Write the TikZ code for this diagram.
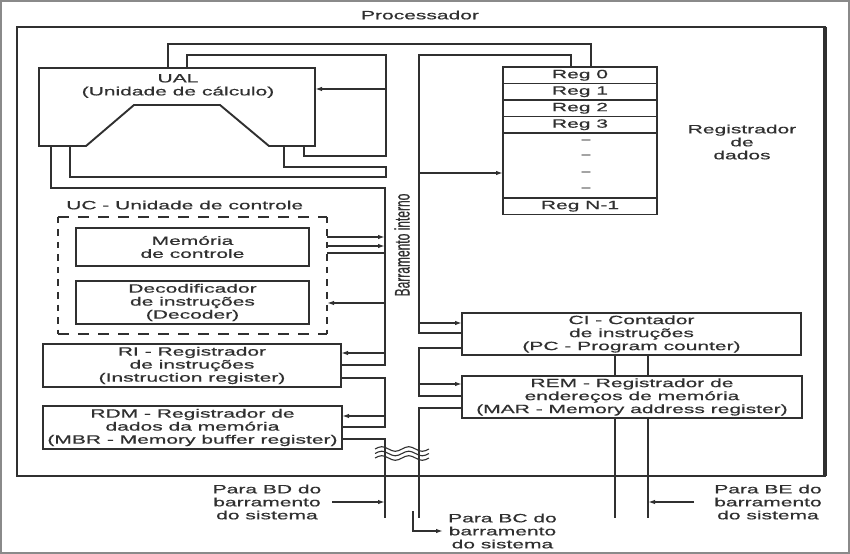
\documentclass[tikz,border=0pt]{standalone}
\usepackage{graphicx}
\usepackage{fontspec}
\setmainfont{Liberation Sans}[FakeStretch=1.75,FakeBold=0.6]
\newfontfamily\plainsans{Liberation Sans}[FakeBold=0.6]
\usetikzlibrary{arrows.meta}
\definecolor{ink}{HTML}{303030}
\definecolor{framegray}{HTML}{8A8A8A}
\newcommand\dfont{\fontsize{12bp}{13bp}\selectfont}
\begin{document}
\begin{tikzpicture}[x=1bp,y=-1bp,
  box/.style={draw=ink, line width=1.9bp, inner sep=0pt, outer sep=0pt, align=center, text=ink, font=\dfont},
  shape0/.style={inner sep=0pt, outer sep=0pt},
  conn/.style={draw=ink, line width=1.4bp},
  arr/.style={conn, -{Latex[length=7bp,width=4.5bp]}},
  lbl/.style={text=ink, font=\dfont, align=center, inner sep=0pt}]

\useasboundingbox (0,0) rectangle (850,554);
\fill[white] (0,0) rectangle (850,554);
\draw[framegray, line width=1.6bp] (0.8,0.8) rectangle (849.2,553.2);

% processor frame
\node[shape0, draw=ink, line width=1.4bp, minimum width=808bp, minimum height=449bp] (proc) at (421,251.5) {};
\draw[ink, line width=3.2bp] (proc.north east) -- (proc.south east);
\draw[ink, line width=2bp] (proc.south east) -- (proc.south west);
\node[lbl] (title) at (420,15) {Processador};

% UAL
\node[shape0, minimum width=276bp, minimum height=78bp] (ual) at (177,107) {};
\draw[ink, line width=1.9bp] (ual.north west) -- (ual.north east) -- (ual.south east)
  -- (269,146) -- (220,105) -- (134,105) -- (86,146) -- (ual.south west) -- cycle;
\node[lbl] (ualt) at (178,86) {UAL\\(Unidade de cálculo)};

% register file
\node[box, minimum width=154bp, minimum height=16.5bp] (reg0) at (580,75.25) {Reg 0};
\node[box, minimum width=154bp, minimum height=16.5bp] (reg1) at (580,91.75) {Reg 1};
\node[box, minimum width=154bp, minimum height=16.5bp] (reg2) at (580,108.25) {Reg 2};
\node[box, minimum width=154bp, minimum height=16.5bp] (reg3) at (580,124.75) {Reg 3};
\node[box, minimum width=154bp, minimum height=65bp] (regb) at (580,165.5) {};
\node[box, minimum width=154bp, minimum height=16.5bp] (regn) at (580,206.25) {Reg N-1};
\node[lbl, font=\fontsize{9bp}{10bp}\selectfont] (d1) at (586,141) {–};
\node[lbl, font=\fontsize{9bp}{10bp}\selectfont] (d2) at (586,156) {–};
\node[lbl, font=\fontsize{9bp}{10bp}\selectfont] (d3) at (586,173) {–};
\node[lbl, font=\fontsize{9bp}{10bp}\selectfont] (d4) at (586,189) {–};
\node[lbl] (rdados) at (742,142) {Registrador\\de\\dados};

% control unit
\node[shape0, minimum width=269bp, minimum height=117bp] (uc) at (192.5,275.5) {};
\draw[ink, line width=1.9bp, dash pattern=on 11bp off 9bp] (uc.north west) -- (uc.north east);
\draw[ink, line width=1.9bp, dash pattern=on 11bp off 9bp] (uc.south west) -- (uc.south east);
\draw[ink, line width=2.6bp, dash pattern=on 6.5bp off 6bp] (uc.north west) -- (uc.south west);
\draw[ink, line width=2.6bp, dash pattern=on 6.5bp off 6bp] (uc.north east) -- (uc.south east);
\node[lbl, anchor=west] (uclbl) at (66,205) {UC - Unidade de controle};
\node[box, minimum width=233bp, minimum height=38bp] (mem) at (192.5,247) {Memória\\de controle};
\node[box, minimum width=233bp, minimum height=43bp] (dec) at (192.5,302.5) {Decodificador\\de instruções\\(Decoder)};

% left registers
\node[box, minimum width=298bp, minimum height=43bp] (ri) at (192,365.5) {RI - Registrador\\de instruções\\(Instruction register)};
\node[box, minimum width=299bp, minimum height=43bp] (rdm) at (192.5,427.5) {RDM - Registrador de\\dados da memória\\(MBR - Memory buffer register)};

% right registers
\node[box, minimum width=339bp, minimum height=42bp] (ci) at (631.5,334) {CI - Contador\\de instruções\\(PC - Program counter)};
\node[box, minimum width=340bp, minimum height=42bp] (rem) at (632,397) {REM - Registrador de\\endereços de memória\\(MAR - Memory address register)};

% bus label
\node[rotate=90, text=ink, inner sep=0pt] (bus) at (402,245) {\plainsans\dfont\scalebox{1}[1.75]{Barramento interno}};

% external labels
\node[lbl] (bd) at (267,502) {Para BD do\\barramento\\do sistema};
\node[lbl, anchor=west] (bc) at (448,531) {Para BC do\\barramento\\do sistema};
\node[lbl] (be) at (768,502) {Para BE do\\barramento\\do sistema};

% UAL connections
\draw[conn] (ual.north -| 168,0) |- (591,44) -- (reg0.north -| 591,0);
\draw[conn] (ual.north -| 187,0) |- (386,55) |- (304,156) -- (ual.south -| 304,0);
\draw[arr] (386,89) -- (ual.east |- 0,89);
\draw[conn] (ual.south -| 284,0) |- (386,167) |- (70,177) -- (ual.south -| 70,0);
\draw[conn] (ual.south -| 51,0) |- (385,188) |- (ri.east |- 0,365);

% control unit links
\draw[arr] (uc.east |- 0,237) -- (385,237);
\draw[arr] (uc.east |- 0,246) -- (385,246);
\draw[conn] (uc.east |- 0,253) -- (385,253);
\draw[arr] (385,303) -- (uc.east |- 0,303);
\draw[arr] (385,353) -- (ri.east |- 0,353);

% RI / RDM
\draw[conn] (ri.east |- 0,378) -| (385,427) -- (rdm.east |- 0,427);
\draw[arr] (385,416) -- (rdm.east |- 0,416);
\draw[conn] (rdm.east |- 0,439) -| (385,518);
\draw[arr] ([xshift=11bp]bd.east) -- (bd.east -| 385,0);

% right bus
\draw[conn] (reg0.north -| 571,0) |- (419,55) |- (ci.west |- 0,333);
\draw[arr] (419,173) -- (regb.west |- 0,173);
\draw[arr] (419,323) -- (ci.west |- 0,323);
\draw[conn] (ci.west |- 0,348) -| (419,396) -- (rem.west |- 0,396);
\draw[arr] (419,384) -- (rem.west |- 0,384);
\draw[conn] (rem.west |- 0,408) -| (419,518);
\draw[arr] (413,511) |- ([xshift=-5bp]bc.west);

% CI / REM to BE
\draw[conn] (ci.south -| 615,0) -- (rem.north -| 615,0);
\draw[conn] (ci.south -| 648,0) -- (rem.north -| 648,0);
\draw[conn] (rem.south -| 615,0) -- (615,518);
\draw[conn] (rem.south -| 648,0) -- (648,518);
\draw[arr] ([xshift=-20bp]be.west) -- (be.west -| 648,0);

% break marks
\foreach \yy in {449,453.5,458}{
  \draw[ink, line width=1.1bp] (375,\yy) sin (381.75,\yy-2.3) cos (388.5,\yy) sin (395.25,\yy+2.3) cos (402,\yy)
    sin (408.75,\yy-2.3) cos (415.5,\yy) sin (422.25,\yy+2.3) cos (429,\yy);
}
\end{tikzpicture}
\end{document}
